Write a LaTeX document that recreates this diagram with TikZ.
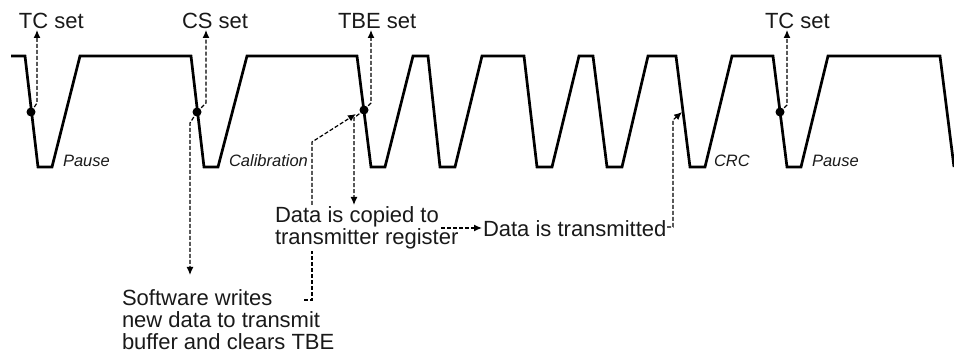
\documentclass[tikz,border=0pt]{standalone}
\usepackage{fontspec}
\setmainfont{Liberation Sans}
\usetikzlibrary{arrows.meta}
\tikzset{
  wave/.style={line width=2.7pt,line join=miter,miter limit=4,black},
  conn/.style={line width=1.2pt,dash pattern=on 4pt off 2pt,black},
  connarrow/.style={conn,-{Latex[length=8pt,width=7pt]}},
  lab/.style={inner sep=0pt,outer sep=0pt,font=\fontsize{22}{21.6}\selectfont,anchor=base west,text=black!90},
  mlab/.style={inner sep=0pt,outer sep=0pt,font=\fontsize{22}{21.6}\selectfont,anchor=north west,align=left,text=black!90},
  phase/.style={inner sep=0pt,outer sep=0pt,font=\fontsize{16.5}{16.5}\selectfont\itshape,anchor=base west,text=black!90},
  dotmark/.style={circle,fill=black,draw=none,minimum size=9pt,inner sep=0pt}
}
\begin{document}
\begin{tikzpicture}[x=1pt,y=-1pt]
\useasboundingbox (0,0) rectangle (954,352);
% waveform
\draw[wave] (11,56) -- (25,56) -- (38,167) -- (52,167) -- (80,56) -- (191,56) -- (204,167) -- (218,167)
  -- (247,56) -- (357,56) -- (371,167) -- (385,167) -- (413,56) -- (428,56) -- (440,167) -- (455,167)
  -- (482,56) -- (524,56) -- (537,167) -- (552,167) -- (579,56) -- (593,56) -- (607,167) -- (622,167)
  -- (648,56) -- (676,56) -- (690,167) -- (705,167) -- (732,56) -- (773,56) -- (787,167) -- (801,167)
  -- (828,56) -- (940,56) -- (954,167);
% event dots
\node[dotmark] (d1) at (31,112) {};
\node[dotmark] (d2) at (197,112) {};
\node[dotmark] (d3) at (364,110) {};
\node[dotmark] (d4) at (780,112) {};
% labels
\node[lab] (tc1) at (19,28.5) {TC set};
\node[lab] (cs) at (182,28.5) {CS set};
\node[lab] (tbe) at (338,28.5) {TBE set};
\node[lab] (tc2) at (765,29) {TC set};
\node[phase] (p1) at (63,167) {Pause};
\node[phase] (cal) at (229,167) {Calibration};
\node[phase] (crc) at (714,167) {CRC};
\node[phase] (p2) at (812,167) {Pause};
\node[mlab] (copied) at (275,207) {Data is copied to\\transmitter register};
\node[lab] (sent) at (483,237) {Data is transmitted};
\node[mlab] (soft) at (122,290) {Software writes\\new data to transmit\\buffer and clears TBE};
% connector ends
\coordinate (tc1up) at (37,30);
\coordinate (csup) at (206,30);
\coordinate (tbeup) at (371,30);
\coordinate (tc2up) at (787,30);
\coordinate (swdown) at (190,275);
\coordinate (cpdown) at (354,205);
\coordinate (swstart) at (304,300);
\coordinate (swgap1) at (312,251);
\coordinate (swgap2) at (312,205);
\coordinate (swtip) at (356,114);
\coordinate (cpout) at (441,228);
\coordinate (txin) at (482,228);
\coordinate (txout) at (667,227);
\coordinate (txtip) at (682,112);
% connectors
\draw[connarrow] (d1.center) -- (37,103) -- (tc1up);
\draw[connarrow] (d2.center) -- (206,103) -- (csup);
\draw[connarrow] (d3.center) -- (371,103) -- (tbeup);
\draw[connarrow] (d4.center) -- (787,105) -- (tc2up);
\draw[connarrow] (d2.center) -- (190,123) -- (swdown);
\draw[connarrow] (d3.center) -- (354,118) -- (cpdown);
\draw[conn] (swstart) -- (312,300) -- (swgap1);
\draw[connarrow] (swgap2) -- (312,142) -- (swtip);
\draw[connarrow] (cpout) -- (txin);
\draw[connarrow] (txout) -- (673,227) -- (673,120) -- (txtip);
\end{tikzpicture}
\end{document}
